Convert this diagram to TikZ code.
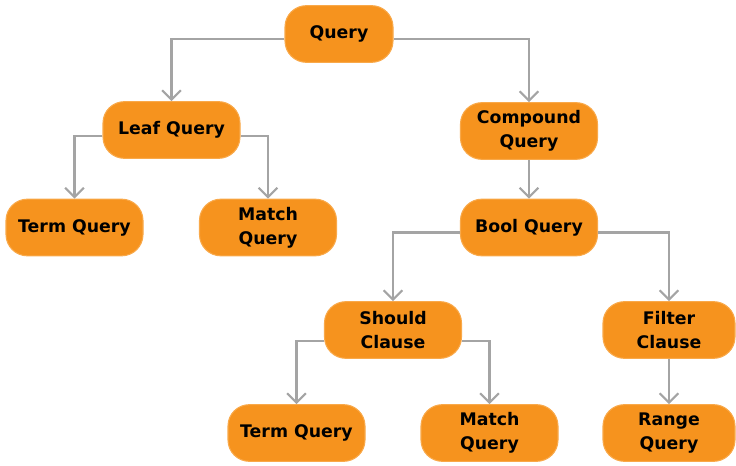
\documentclass[tikz,border=0pt]{standalone}
\usepackage{fontspec}
\setmainfont{DejaVu Sans}
\usetikzlibrary{arrows.meta}
\definecolor{boxfill}{HTML}{F6931E}
\definecolor{boxedge}{HTML}{F9A94A}
\definecolor{linegray}{HTML}{A4A4A4}
\tikzset{
  qbox/.style={rectangle, rounded corners=16pt, fill=boxfill, draw=boxedge, line width=0.8pt,
    minimum width=102.75pt, minimum height=42.5pt, inner sep=0pt, align=center,
    font=\bfseries\fontsize{13}{18}\selectfont, text=black},
  conn/.style={draw=linegray, line width=1.6pt, -{Straight Barb[length=7pt,width=14pt,line width=1.6pt]}}
}
\begin{document}
\begin{tikzpicture}[x=0.75pt,y=-0.75pt]
\useasboundingbox (0,0) rectangle (736,466);
\node[qbox, minimum width=81pt] (q) at (339,34) {Query};
\node[qbox] (leaf) at (171.5,130) {Leaf Query};
\node[qbox] (comp) at (529,131) {Compound\\Query};
\node[qbox] (term1) at (74.5,227.5) {Term Query};
\node[qbox] (match1) at (268,227.5) {Match\\Query};
\node[qbox] (bool) at (529,227.5) {Bool Query};
\node[qbox] (should) at (393,330) {Should\\Clause};
\node[qbox, minimum width=99pt] (filter) at (669,330) {Filter\\Clause};
\node[qbox] (term2) at (296.5,433) {Term Query};
\node[qbox] (match2) at (489.5,433) {Match\\Query};
\node[qbox, minimum width=99pt] (range) at (669,433) {Range\\Query};

\draw[conn] ([yshift=-3.75pt]q.west) -| (leaf.north);
\draw[conn] ([yshift=-3.75pt]q.east) -| (comp.north);
\draw[conn] ([yshift=-4.5pt]leaf.west) -| (term1.north);
\draw[conn] ([yshift=-4.5pt]leaf.east) -| (match1.north);
\draw[conn] (comp.south) -- (bool.north);
\draw[conn] ([yshift=-3.75pt]bool.west) -| (should.north);
\draw[conn] ([yshift=-3.75pt]bool.east) -| (filter.north);
\draw[conn] ([yshift=-8.25pt]should.west) -| (term2.north);
\draw[conn] ([yshift=-8.25pt]should.east) -| (match2.north);
\draw[conn] (filter.south) -- (range.north);
\end{tikzpicture}
\end{document}
